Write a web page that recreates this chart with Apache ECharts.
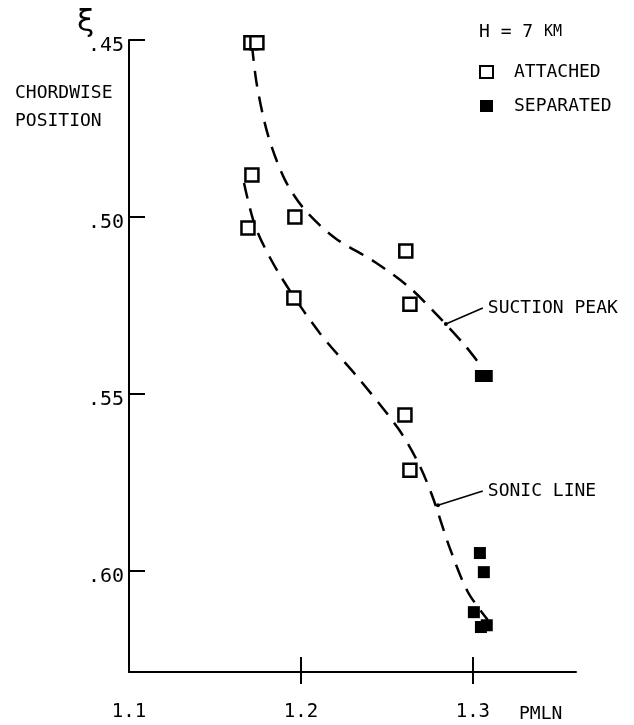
<!DOCTYPE html>
<html>
<head>
<meta charset="utf-8">
<script src="https://cdn.jsdelivr.net/npm/echarts@6/dist/echarts.min.js"></script>
<style>html,body{margin:0;padding:0;background:#fff;}#c{width:634px;height:725px;}</style>
</head>
<body>
<div id="c"></div>
<script>
// ---- data (PMLN, xi) ----
const xTickValues = [1.1, 1.2, 1.3];
const yTickValues = [0.45, 0.50, 0.55, 0.60];

const attachedPoints = [
  [1.1709, 0.4508], [1.1744, 0.4508], [1.1715, 0.4881], [1.1965, 0.5000],
  [1.1692, 0.5031], [1.2610, 0.5096], [1.2634, 0.5246], [1.1959, 0.5229],
  [1.2605, 0.5559], [1.2634, 0.5715]
];
const separatedPoints = [
  [1.3047, 0.5449], [1.3081, 0.5449], [1.3041, 0.5949], [1.3064, 0.6003],
  [1.3006, 0.6116], [1.3047, 0.6158], [1.3081, 0.6153]
];
const suctionPeakCurve = [
  [1.1715, 0.4514], [1.1744, 0.4627], [1.1808, 0.4768], [1.1907, 0.4895],
  [1.2023, 0.4980], [1.2198, 0.5059], [1.2430, 0.5127], [1.2634, 0.5200],
  [1.2808, 0.5285], [1.2953, 0.5362], [1.3058, 0.5427]
];
const sonicLineCurve = [
  [1.1669, 0.4904], [1.1738, 0.5031], [1.1878, 0.5164], [1.2110, 0.5328],
  [1.2343, 0.5460], [1.2564, 0.5596], [1.2680, 0.5692], [1.2762, 0.5785],
  [1.2866, 0.5935], [1.2971, 0.6059], [1.3087, 0.6138]
];
const suctionLeader = [[1.2843, 0.5302], [1.3058, 0.5257]];
const sonicLeader = [[1.2797, 0.5814], [1.3058, 0.5774]];

const FONT = '"DejaVu Sans Mono", "Liberation Mono", monospace';
const chart = echarts.init(document.getElementById('c'), null, {renderer: 'canvas'});

function leader(data, text) {
  return {
    type: 'line', data: data.map((p, i) => i === 0
      ? {value: p, symbol: 'circle', symbolSize: 4}
      : {value: p, symbol: 'none'}),
    showSymbol: true, silent: true, animation: false,
    lineStyle: {color: '#000', width: 1.5},
    itemStyle: {color: '#000', opacity: 1},
    endLabel: {show: true, formatter: text, distance: 5, color: '#000',
      fontFamily: FONT, fontSize: 18},
    z: 3
  };
}

const dashStyle = {color: '#000', width: 2.5, type: [16, 10]};

chart.setOption({
  animation: false,
  backgroundColor: '#fff',
  grid: {left: 129, right: 58, top: 40, bottom: 53},
  title: [
    {text: 'ξ', left: 72, top: 2, textStyle: {fontFamily: '"DejaVu Sans", sans-serif', fontSize: 31, fontWeight: 'normal', color: '#000'}},
    {text: 'CHORDWISE\nPOSITION', left: 10, top: 74, textStyle: {fontFamily: FONT, fontSize: 18, lineHeight: 28, fontWeight: 'normal', color: '#000'}},
    {text: 'H = 7 {s|KM}', left: 474, top: 18, textStyle: {fontFamily: FONT, fontSize: 18, fontWeight: 'normal', color: '#000', rich: {s: {fontFamily: FONT, fontSize: 15, color: '#000'}}}},
    {text: 'PMLN', left: 514, top: 700, textStyle: {fontFamily: FONT, fontSize: 18, fontWeight: 'normal', color: '#000'}}
  ],
  legend: {
    orient: 'vertical', left: 479, top: 63, padding: 0, itemWidth: 13, itemHeight: 12, itemGap: 16,
    data: [
      {name: 'ATTACHED', itemStyle: {color: '#fff', borderColor: '#000', borderWidth: 2}},
      {name: 'SEPARATED', itemStyle: {color: '#000', opacity: 1}}
    ],
    textStyle: {fontFamily: FONT, fontSize: 18, color: '#000', padding: [0, 0, 0, 16]},
    selectedMode: false
  },
  xAxis: [
    {type: 'value', min: 1.1, max: 1.36, interval: 0.1,
     axisLine: {lineStyle: {color: '#000', width: 2}},
     axisTick: {show: true, inside: true, length: 15, lineStyle: {color: '#000', width: 2}, customValues: [1.2, 1.3]},
     axisLabel: {customValues: xTickValues, formatter: v => v.toFixed(1), fontFamily: FONT, fontSize: 19, color: '#000', margin: 31},
     splitLine: {show: false}},
    {type: 'value', min: 1.1, max: 1.36, interval: 0.1, position: 'bottom',
     axisLine: {show: false},
     axisTick: {show: true, inside: false, length: 12, lineStyle: {color: '#000', width: 2}, customValues: [1.2, 1.3]},
     axisLabel: {show: false}, splitLine: {show: false}}
  ],
  yAxis: {
    type: 'value', inverse: true, min: 0.45, max: 0.6285, interval: 0.05,
    axisLine: {lineStyle: {color: '#000', width: 2}},
    axisTick: {show: true, inside: true, length: 16, lineStyle: {color: '#000', width: 2}, customValues: yTickValues},
    axisLabel: {customValues: yTickValues, formatter: v => v.toFixed(2).replace(/^0/, ''),
      fontFamily: FONT, fontSize: 20, color: '#000', margin: 5, verticalAlign: 'top', lineHeight: 12},
    splitLine: {show: false}
  },
  series: [
    {name: 'SUCTION PEAK', type: 'line', data: suctionPeakCurve, smooth: 0.3, showSymbol: false,
     lineStyle: dashStyle, silent: true, z: 2},
    {name: 'SONIC LINE', type: 'line', data: sonicLineCurve, smooth: 0.3, showSymbol: false,
     lineStyle: dashStyle, silent: true, z: 2},
    leader(suctionLeader, 'SUCTION PEAK'),
    leader(sonicLeader, 'SONIC LINE'),
    {name: 'ATTACHED', type: 'scatter', data: attachedPoints, symbol: 'rect', symbolSize: 13,
     itemStyle: {color: '#fff', borderColor: '#000', borderWidth: 2.5, opacity: 1}, z: 4},
    {name: 'SEPARATED', type: 'scatter', data: separatedPoints, symbol: 'rect', symbolSize: 12,
     itemStyle: {color: '#000', opacity: 1}, z: 4}
  ]
});
</script>
</body>
</html>
